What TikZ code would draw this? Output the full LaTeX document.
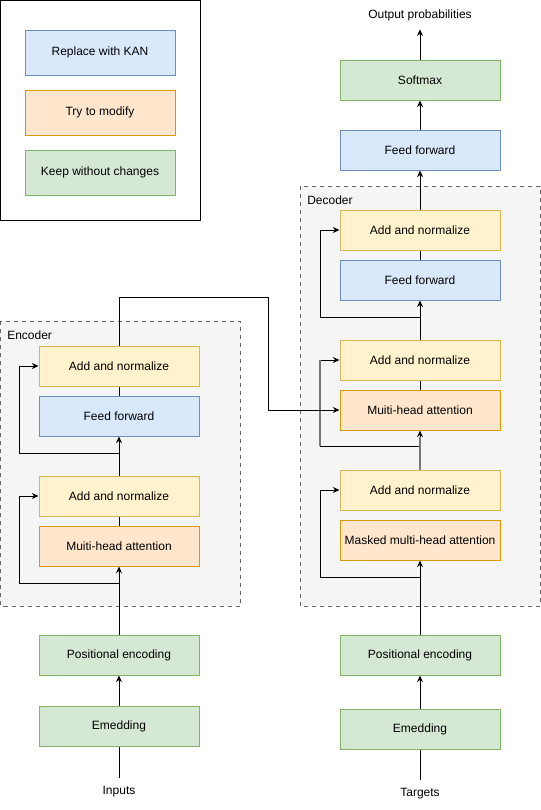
\documentclass[tikz,border=0pt]{standalone}
\usepackage{fontspec}
\setmainfont{Liberation Sans}
\usetikzlibrary{arrows.meta}

\begin{document}
\begin{tikzpicture}[x=0.75pt,y=-0.75pt,
  box/.style={draw,line width=0.75pt,minimum width=120pt,minimum height=30pt,inner sep=0pt,font=\fontsize{9}{11}\selectfont},
  legbox/.style={minimum width=112.5pt,minimum height=33.75pt},
  kan/.style={box,draw=KanBlueLine,fill=KanBlue},
  modify/.style={box,draw=ModOrangeLine,fill=ModOrange},
  keep/.style={box,draw=KeepGreenLine,fill=KeepGreen},
  addnorm/.style={box,draw=NormYellowLine,fill=NormYellow},
  lbl/.style={inner sep=0pt,minimum height=21pt,font=\fontsize{9}{11}\selectfont},
  arr/.style={-{Stealth[length=5pt,width=4.5pt]}},
  wire/.style={line width=0.75pt},
  graywire/.style={line width=1pt,color=GrayWire}]
\definecolor{KanBlue}		{HTML}{DAE8FC}
\definecolor{KanBlueLine}	{HTML}{6C8EBF}
\definecolor{ModOrange}		{HTML}{FFE6CC}
\definecolor{ModOrangeLine}	{HTML}{D79B00}
\definecolor{KeepGreen}		{HTML}{D5E8D4}
\definecolor{KeepGreenLine}	{HTML}{82B366}
\definecolor{NormYellow}	{HTML}{FFF2CC}
\definecolor{NormYellowLine}{HTML}{D6B656}
\definecolor{BlockGray}		{HTML}{F5F5F5}
\definecolor{BlockGrayLine}	{HTML}{666666}
\definecolor{GrayWire}		{HTML}{777777}

\useasboundingbox (0,0) rectangle (541,810);

% legend
\draw[line width=0.75pt] (0.5,0.5) rectangle (200,220);
\node[kan,legbox]    (legKan)  at (100,52.5)  {Replace with KAN};
\node[modify,legbox] (legMod)  at (100,112.5) {Try to modify};
\node[keep,legbox]   (legKeep) at (100,172.5) {Keep without changes};

% encoder and decoder blocks
\filldraw[fill=BlockGray,draw=BlockGrayLine,dashed,line width=0.5pt] (0.5,321) rectangle (240,606);
\filldraw[fill=BlockGray,draw=BlockGrayLine,dashed,line width=0.5pt] (300,186) rectangle (540,606);
\node[lbl,anchor=west] (encName) at (7,335) {Encoder};
\node[lbl,anchor=west] (decName) at (307,200) {Decoder};

\begin{scope}[]
	\node[lbl]     (inp)    at (119,792) {Inputs};
	\node[keep]    (encEmb) at (119,726) {Emedding};
	\node[keep]    (encPos) at (119,655) {Positional encoding};
	\node[modify]  (encAtt) at (119,546) {Muiti-head attention};
	\node[addnorm] (encAdd1) at (119,496) {Add and normalize};
	\node[kan]     (encFF)  at (119,416) {Feed forward};
	\node[addnorm] (encAdd2) at (119,366) {Add and normalize};

	\coordinate (encR1) at (119,583);
	\coordinate (encR2) at (119,453);
	\coordinate (cross) at (268,297);

\draw[wire] (inp) -- (encEmb);
\draw[wire,arr] (encEmb) -- (encPos);
\draw[wire,arr] (encPos) -- (encAtt);
\draw[wire,arr] (encR1) -- ++(-100,0) |- (encAdd1.west);
\draw[wire] (encAtt) -- (encAdd1);
\draw[wire,arr] (encAdd1) -- (encFF);
\draw[wire,arr] (encR2) -- ++(-100,0) |- (encAdd2.west);
\draw[wire] (encFF) -- (encAdd2);
\end{scope}

\begin{scope}[]
	\node[lbl]     (tgt)     at (420,794) {Targets};
	\node[keep]    (decEmb)  at (420,729) {Emedding};
	\node[keep]    (decPos)  at (420,655) {Positional encoding};
	\node[modify]  (decMask) at (420,540) {Masked multi-head attention};
	\node[addnorm] (decAdd1) at (420,490) {Add and normalize};
	\node[modify]  (decAtt)  at (420,410) {Muiti-head attention};
	\node[addnorm] (decAdd2) at (420,360) {Add and normalize};
	\node[kan]     (decFF)   at (420,280) {Feed forward};
	\node[addnorm] (decAdd3) at (420,230) {Add and normalize};
	\node[kan]     (outFF)   at (420,150) {Feed forward};
	\node[keep]    (softmax) at (420,80)  {Softmax};
	\node[lbl]     (outp)    at (420,15)  {Output probabilities};

	\coordinate (decR1) at (420,577);
	\coordinate (decR2) at (420,446);
	\coordinate (decR3) at (420,317);

\draw[wire] (tgt) -- (decEmb);
\draw[wire,arr] (decEmb) -- (decPos);
\draw[wire,arr] (decPos) -- (decMask);
\draw[wire,arr] (decR1) -- ++(-100,0) |- (decAdd1.west);
\draw[wire,arr] (decAdd1) -- (decAtt);
\draw[wire,arr] (decR2) -- ++(-100,0) |- (decAdd2.west);
%gray overlaps
\draw[graywire] (decAdd1.north) -- ++(0,-33);
\draw[graywire] (decR2) ++(-100,0) -- ++(0,-86);
\draw[wire] (decAtt) -- (decAdd2);
\draw[wire,arr] (decAdd2) -- (decFF);
\draw[wire,arr] (decR3) -- ++(-100,0) |- (decAdd3.west);
\draw[wire] (decFF) -- (decAdd3);
\draw[wire,arr] (decAdd3) -- (outFF);
\draw[wire,arr] (outFF) -- (softmax);
\draw[wire,arr] (softmax) -- (outp);
\end{scope}

% encoder output into the decoder attention
\draw[wire,arr] (encAdd2.north) |- (cross) |- (decAtt.west);

\end{tikzpicture}
\end{document}
